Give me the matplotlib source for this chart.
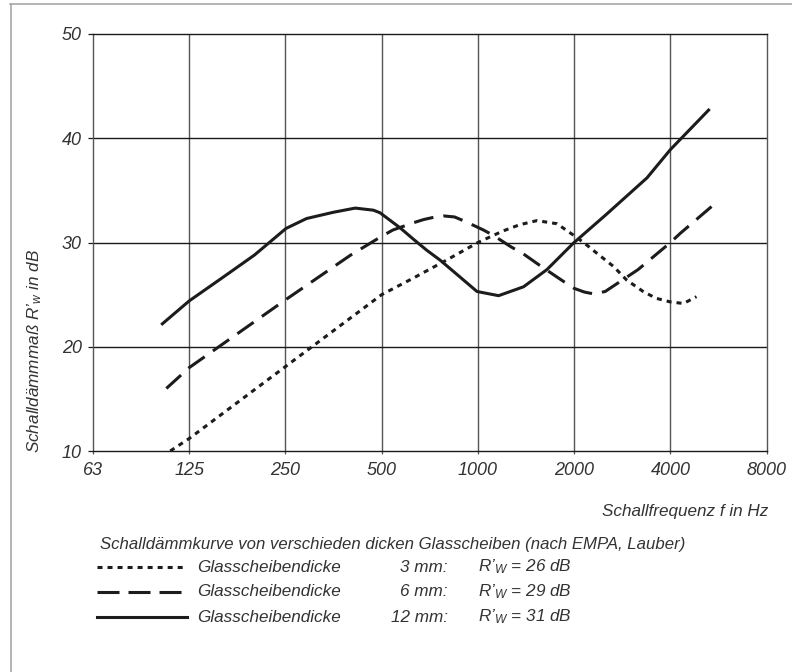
import matplotlib
matplotlib.use('Agg')
import matplotlib.pyplot as plt
from matplotlib.lines import Line2D

# ---------------- data ----------------
freq_3mm = [109, 125, 250, 500, 629, 796, 1000, 1196, 1349, 1529, 1767, 1990, 2150, 2370, 2655, 2918, 3286, 3607, 3995, 4392, 4825]
r_3mm = [10.0, 11.2, 18.1, 25.0, 26.6, 28.3, 30.0, 31.1, 31.7, 32.1, 31.8, 30.7, 29.95, 28.9, 27.7, 26.4, 25.3, 24.65, 24.3, 24.15, 24.8]

freq_6mm = [106, 125, 250, 400, 500, 542, 629, 676, 735, 780, 845, 915, 1040, 1115, 1266, 1388, 1561, 1886, 2000, 2150, 2300, 2500, 3167, 4000, 4300, 5595]
r_6mm = [16.0, 18.0, 24.5, 28.8, 30.6, 31.2, 31.9, 32.2, 32.45, 32.55, 32.45, 32.0, 31.2, 30.7, 29.6, 28.9, 27.8, 26.1, 25.6, 25.25, 25.07, 25.3, 27.4, 30.0, 30.9, 33.9]

freq_12mm = [103, 125, 160, 200, 251, 291, 353, 413, 471, 494, 571, 629, 692, 762, 870, 993, 1160, 1388, 1643, 1990, 2500, 3378, 3995, 5264]
r_12mm = [22.2, 24.4, 26.7, 28.8, 31.35, 32.3, 32.9, 33.3, 33.1, 32.85, 31.4, 30.3, 29.25, 28.3, 26.8, 25.3, 24.9, 25.75, 27.4, 29.95, 32.6, 36.2, 38.9, 42.7]

x_ticks = [62.5, 125, 250, 500, 1000, 2000, 4000, 8000]
x_tick_labels = ['63', '125', '250', '500', '1000', '2000', '4000', '8000']
y_ticks = [10, 20, 30, 40, 50]

thickness = ['3 mm:', '6 mm:', '12 mm:']
rw_values = ['26', '29', '31']

# ---------------- style ----------------
plt.rcParams['font.family'] = ['Liberation Sans', 'DejaVu Sans']
plt.rcParams['font.style'] = 'italic'
plt.rcParams['mathtext.fontset'] = 'custom'
plt.rcParams['mathtext.it'] = 'Liberation Sans:italic'
plt.rcParams['mathtext.rm'] = 'Liberation Sans:italic'

TXT = '#333333'
LINE = '#1c1c1c'
W, H = 792, 672
LW = 2.2
dotted = (0, (1.64, 1.64))
dashed = (0, (6.5, 3.3))
dashed_leg = (0, (7.2, 2.95))

fig = plt.figure(figsize=(W / 100, H / 100), dpi=100)
fig.patch.set_facecolor('white')

def fx(px):
    return px / W

def fy(py):
    return 1 - py / H

ax = fig.add_axes([fx(93), fy(451), fx(766.7) - fx(93), fy(34) - fy(451)])
ax.set_xscale('log', base=2)
ax.set_xlim(62.5, 8000)
ax.set_ylim(10, 50)

ax.set_xticks(x_ticks)
ax.set_xticklabels(x_tick_labels)
ax.xaxis.set_minor_locator(matplotlib.ticker.NullLocator())
ax.set_yticks(y_ticks)
ax.set_yticklabels([str(v) for v in y_ticks])

for v in x_ticks[1:-1]:
    ax.axvline(v, color='#555555', lw=1.0, zorder=1)
for v in y_ticks[1:-1]:
    ax.axhline(v, color='#1a1a1a', lw=1.0, zorder=1)

for s in ['top', 'bottom']:
    ax.spines[s].set_color('#1a1a1a')
    ax.spines[s].set_linewidth(1.0)
for s in ['left', 'right']:
    ax.spines[s].set_color('#555555')
    ax.spines[s].set_linewidth(1.0)

ax.tick_params(axis='y', direction='out', length=3.6, width=0.9, color='#1a1a1a',
               pad=4.3, labelsize=13, labelcolor=TXT)
ax.tick_params(axis='x', direction='out', length=2.2, width=0.9, color='#555555',
               pad=5.5, labelsize=13, labelcolor=TXT)

ax.plot(freq_3mm, r_3mm, color=LINE, lw=LW, linestyle=dotted, zorder=3)
ax.plot(freq_6mm, r_6mm, color=LINE, lw=LW, linestyle=dashed, zorder=3)
ax.plot(freq_12mm, r_12mm, color=LINE, lw=LW, linestyle='-', zorder=3)

# y label (bottom anchored near axis bottom)
fig.text(fx(35), fy(453), 'Schalldämmmaß R’$_w$ in dB', rotation=90,
         ha='center', va='bottom', fontsize=12.3, color=TXT)

# x label
fig.text(fx(768), fy(511.7), 'Schallfrequenz f in Hz', ha='right', va='center',
         fontsize=12.3, color=TXT)

# caption / legend
fig.text(fx(100), fy(545), 'Schalldämmkurve von verschieden dicken Glasscheiben (nach EMPA, Lauber)',
         ha='left', va='center', fontsize=12.1, color=TXT)

styles = [dotted, dashed_leg, '-']
rows = [567, 592, 617]
for st, row, th, rw in zip(styles, rows, thickness, rw_values):
    fig.add_artist(Line2D([fx(97), fx(187)], [fy(row), fy(row)], transform=fig.transFigure,
                          color=LINE, lw=LW, linestyle=st))
    fig.text(fx(197), fy(row), 'Glasscheibendicke', ha='left', va='center', fontsize=12.3, color=TXT)
    fig.text(fx(448), fy(row), th, ha='right', va='center', fontsize=12.3, color=TXT)
    fig.text(fx(478), fy(row), 'R’$_W$ = ' + rw + ' dB', ha='left', va='center', fontsize=12.3, color=TXT)

# light frame around figure
fig.add_artist(Line2D([fx(10.5), fx(10.5)], [fy(4), fy(672)], transform=fig.transFigure,
                      color='#a8a8a8', lw=1.2))
fig.add_artist(Line2D([fx(10), fx(792)], [fy(4), fy(4)], transform=fig.transFigure,
                      color='#a8a8a8', lw=1.2))

fig.savefig('out.png', dpi=100, facecolor='white')
